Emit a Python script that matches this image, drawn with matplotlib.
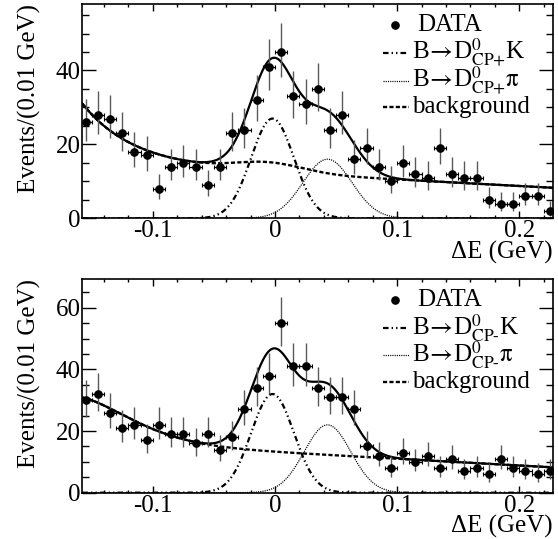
import numpy as np
import matplotlib
matplotlib.use('Agg')
import matplotlib.pyplot as plt
from matplotlib.ticker import MultipleLocator

plt.rcParams['font.family'] = ['Liberation Serif', 'DejaVu Serif']
plt.rcParams['mathtext.fontset'] = 'stix'
plt.rcParams['axes.unicode_minus'] = False
plt.rcParams['lines.scale_dashes'] = False

# Delta E histogram: 0.01 GeV bins starting at -0.16 GeV
bin_lo = -0.16
bin_w = 0.01
n_bins = 39
de = bin_lo + bin_w * (np.arange(n_bins) + 0.5)

# events per bin
counts_plus = [26, 28, 27, 23, 18, 17, 8, 14, 15, 14, 9, 14, 23, 24, 32, 41,
               45, 33, 31, 35, 24, 28, 16, 19, 14, 10, 15, 12, 11, 19, 12, 11,
               11, 5, 4, 4, 6, 6, 2]
counts_minus = [30, 32, 26, 21, 22, 17, 22, 19, 19, 16, 19, 14, 18, 27, 34, 38,
                55, 41, 41, 34, 31, 31, 27, 15, 12, 8, 13, 10, 12, 8, 11, 7,
                8, 6, 11, 8, 7, 6, 7]

# fit components: gaussians (height, mean, sigma)
k_plus = [27.0, -0.002, 0.0175]
pi_plus = [16.0, 0.043, 0.020]
k_minus = [32.0, -0.002, 0.0175]
pi_minus = [22.0, 0.043, 0.019]
# background: linear (value at 0, slope), left tail (height, width, power),
# small bump (height, mean, sigma)
lin_plus = [12.26, -17.6]
tail_plus = [17.0, 0.04, 1.0]
bump_plus = [2.5, -0.005, 0.028]
lin_minus = [13.2, -21.9]
tail_minus = [14.3, 0.06, 1.6]
bump_minus = [0.0, 0.0, 0.03]

xmin, xmax = -0.1575, 0.2275

K_STYLE = (0, (4, 2.2, 1, 2.2, 1, 2.2))
PI_STYLE = (0, (0.8, 0.8))
BKG_STYLE = (0, (3, 1.6))


def gauss(x, p):
    return p[0] * np.exp(-0.5 * ((x - p[1]) / p[2]) ** 2)


def background(x, lin, tail, bump):
    t = tail[0] * np.exp(-((x - bin_lo) / tail[1]) ** tail[2])
    return lin[0] + lin[1] * x + t + gauss(x, bump)


def panel(ax, counts, kpar, pipar, lin, tail, bump, tag, ymax, yticks):
    x = np.linspace(xmin, xmax, 800)
    bkg = background(x, lin, tail, bump)
    sk = gauss(x, kpar)
    spi = gauss(x, pipar)

    ax.plot(x, sk, color='black', lw=1.6, ls=K_STYLE, zorder=2)
    ax.plot(x, spi, color='black', lw=0.9, ls=PI_STYLE, zorder=2)
    ax.plot(x, bkg, color='black', lw=1.7, ls=BKG_STYLE, zorder=2)
    ax.plot(x, bkg + sk + spi, color='black', lw=1.6, zorder=3)

    n = np.array(counts, dtype=float)
    lo = np.sqrt(np.clip(n - 0.25, 0, None))
    hi = 1 + np.sqrt(n + 0.75)
    ax.errorbar(de, n, yerr=[lo, hi], fmt='none', ecolor='0.35', elinewidth=1.0,
                capsize=0, zorder=4)
    ax.errorbar(de, n, xerr=bin_w / 2, fmt='o', color='black', ms=5.2,
                elinewidth=0.9, capsize=1.2, capthick=0.8, zorder=5)

    ax.set_xlim(xmin, xmax)
    ax.set_ylim(0, ymax)
    ax.set_xticks([-0.1, 0.0, 0.1, 0.2])
    ax.set_xticklabels(['-0.1', '0', '0.1', '0.2'])
    ax.set_yticks(yticks)
    ax.xaxis.set_minor_locator(MultipleLocator(0.02))
    ax.yaxis.set_minor_locator(MultipleLocator(5))
    ax.tick_params(which='both', direction='in', top=True, right=True,
                   labelsize=18, width=1.0)
    ax.tick_params(axis='y', which='major', length=10, pad=1.5)
    ax.tick_params(axis='y', which='minor', length=5)
    ax.tick_params(axis='x', which='major', length=5, pad=1.5)
    ax.tick_params(axis='x', which='minor', length=2.5)
    for s in ax.spines.values():
        s.set_linewidth(1.2)

    ax.set_ylabel('Events/(0.01 GeV)', fontsize=18, loc='top')
    ax.yaxis.set_label_coords(-0.089, 1.0)
    ax.set_xlabel('ΔE (GeV)', fontsize=18, loc='right')
    ax.xaxis.set_label_coords(1.0, -0.106)

    # legend
    tr = ax.transAxes
    rows = [0.902, 0.770, 0.642, 0.520]
    x0, x1, xt = 0.638, 0.693, 0.700
    sub = r'\mathrm{CP}\text{' + tag + '}'
    arrow = r'B$\!\rightarrow\!$D'
    ax.plot([0.664], [rows[0]], 'o', color='black', ms=5.2, transform=tr, clip_on=False)
    ax.text(0.711, rows[0], 'DATA', transform=tr, fontsize=18, va='center')
    ax.plot([x0, x1], [rows[1]] * 2, color='black', lw=1.6, ls=K_STYLE, transform=tr)
    ax.text(xt, rows[1], arrow + '$^{0}_{' + sub + '}$K',
            transform=tr, fontsize=18, va='center')
    ax.plot([x0, x1], [rows[2]] * 2, color='black', lw=0.9, ls=PI_STYLE, transform=tr)
    ax.text(xt, rows[2], arrow + '$^{0}_{' + sub + r'}\mathrm{\pi}$',
            transform=tr, fontsize=18, va='center')
    ax.plot([x0, x1], [rows[3]] * 2, color='black', lw=1.7, ls=BKG_STYLE, transform=tr)
    ax.text(xt, rows[3], 'background', transform=tr, fontsize=18, va='center')


fig = plt.figure(figsize=(5.58, 5.39), dpi=100)
ax1 = fig.add_axes([0.1478, 0.5950, 0.8432, 0.3976])
ax2 = fig.add_axes([0.1478, 0.0859, 0.8432, 0.3965])

panel(ax1, counts_plus, k_plus, pi_plus, lin_plus, tail_plus, bump_plus, '+',
      58, [0, 20, 40])
panel(ax2, counts_minus, k_minus, pi_minus, lin_minus, tail_minus, bump_minus, '-',
      69.3, [0, 20, 40, 60])

fig.savefig('out.png', dpi=100)
